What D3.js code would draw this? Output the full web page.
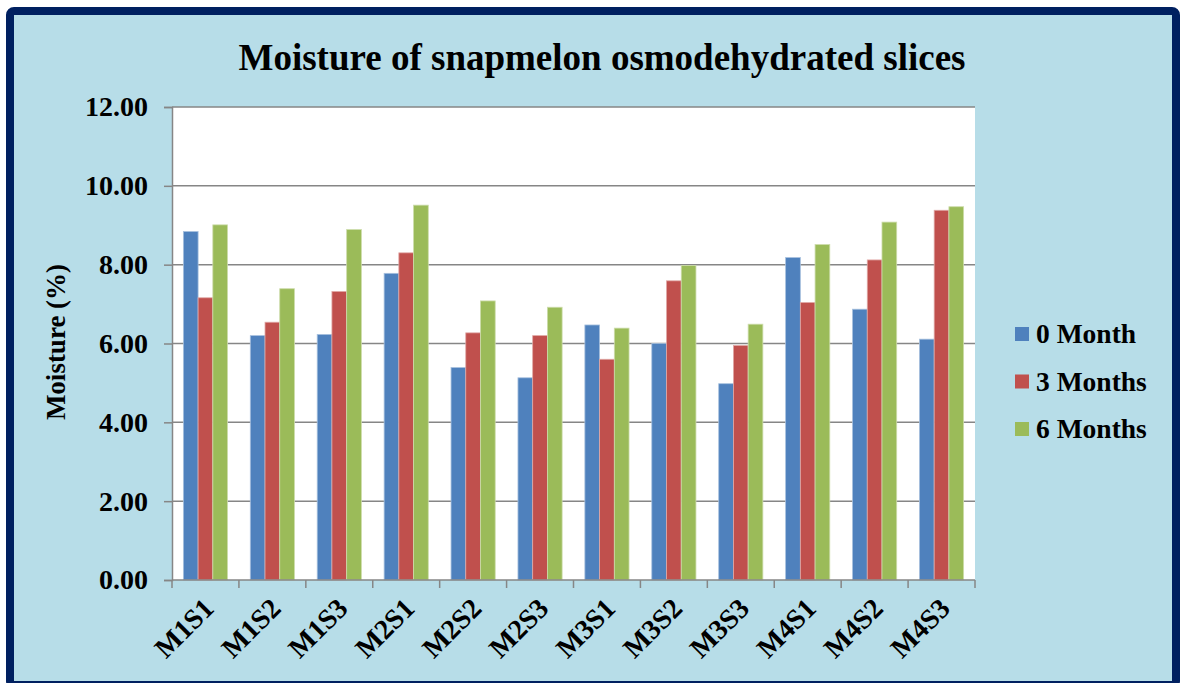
<!DOCTYPE html>
<html><head><meta charset="utf-8">
<script src="https://cdn.jsdelivr.net/npm/d3@7"></script>
<style>body{margin:0;background:#fff}svg{display:block}</style>
</head><body>
<script>
const categories = ["M1S1","M1S2","M1S3","M2S1","M2S2","M2S3","M3S1","M3S2","M3S3","M4S1","M4S2","M4S3"];
const seriesNames = ["0 Month","3 Months","6 Months"];
const month0 = [8.84,6.20,6.23,7.78,5.39,5.13,6.47,6.00,4.98,8.18,6.87,6.11];
const month3 = [7.16,6.54,7.32,8.30,6.27,6.20,5.60,7.59,5.95,7.04,8.12,9.38];
const month6 = [9.01,7.39,8.89,9.51,7.08,6.92,6.39,7.98,6.49,8.51,9.08,9.47];
const yTicks = [0,2,4,6,8,10,12];

(function(){
const colors = ["#4f81bd","#c0504d","#9bbb59"];
const strokes = ["#a7c0de","#e0a8a6","#cddcab"];
const series = [month0, month3, month6];

const W = 1180, H = 683;
const svg = d3.select("body").append("svg").attr("width", W).attr("height", H);
const font = "'Liberation Serif','Times New Roman',serif";

svg.append("rect").attr("x",10).attr("y",11).attr("width",1166).attr("height",674)
  .attr("rx",4).attr("fill","#b7dde8").attr("stroke","#002060").attr("stroke-width",8);

const pL = 172, pR = 975, pT = 107, pB = 580;
const x = d3.scaleBand().domain(categories).range([pL, pR]).paddingInner(0.34).paddingOuter(0.17);
const xOuter = d3.scaleBand().domain(categories).range([pL, pR]);
const xs = d3.scaleBand().domain(seriesNames).range([0, x.bandwidth()]);
const y = d3.scaleLinear().domain([0,12]).range([pB, pT]);

svg.append("rect").attr("x",pL).attr("y",pT).attr("width",pR-pL).attr("height",pB-pT).attr("fill","#fff");

svg.append("g").selectAll("line").data(yTicks.slice(1)).join("line")
  .attr("x1",pL).attr("x2",pR).attr("y1",d=>y(d)).attr("y2",d=>y(d))
  .attr("stroke","#868686").attr("stroke-width",1.5);

seriesNames.forEach((s,i)=>{
  svg.append("g").selectAll("rect").data(series[i]).join("rect")
    .attr("x",(d,j)=>x(categories[j])+xs(s))
    .attr("y",d=>y(d))
    .attr("width",xs.bandwidth())
    .attr("height",d=>pB-y(d))
    .attr("fill",colors[i])
    .attr("stroke",strokes[i]).attr("stroke-width",0.8);
});

const yAxis = svg.append("g").attr("transform",`translate(${pL},0)`)
  .call(d3.axisLeft(y).tickValues(yTicks).tickFormat(d3.format(".2f")).tickSizeOuter(0).tickSize(8).tickPadding(16));
yAxis.select(".domain").attr("stroke","#868686").attr("stroke-width",1.5);
yAxis.selectAll(".tick line").attr("stroke","#868686").attr("stroke-width",1.5);
yAxis.selectAll("text").attr("font-family",font).attr("font-weight","bold").attr("font-size",28).attr("fill","#000");

const xAxisG = svg.append("g").attr("transform",`translate(0,${pB})`);
xAxisG.append("line").attr("x1",pL).attr("x2",pR).attr("stroke","#868686").attr("stroke-width",1.5);
xAxisG.selectAll("line.t").data(categories.concat(["end"])).join("line").attr("class","t")
  .attr("x1",(d,i)=>pL+i*xOuter.step()).attr("x2",(d,i)=>pL+i*xOuter.step())
  .attr("y1",0).attr("y2",8).attr("stroke","#868686").attr("stroke-width",1.5);
xAxisG.selectAll("text").data(categories).join("text")
  .attr("transform",d=>`translate(${xOuter(d)+xOuter.bandwidth()/2+10},${30}) rotate(-45)`)
  .attr("text-anchor","end").attr("font-family",font).attr("font-weight","bold").attr("font-size",28)
  .attr("fill","#000").text(d=>d);

svg.append("text").attr("x",602).attr("y",70).attr("text-anchor","middle")
  .attr("font-family",font).attr("font-weight","bold").attr("font-size",37).text("Moisture of snapmelon osmodehydrated slices");

svg.append("text").attr("transform","translate(65,342) rotate(-90)").attr("text-anchor","middle")
  .attr("font-family",font).attr("font-weight","bold").attr("font-size",27).text("Moisture (%)");

const lg = svg.append("g");
seriesNames.forEach((s,i)=>{
  const yy = 334 + i*47.5;
  lg.append("rect").attr("x",1015).attr("y",yy-7).attr("width",14).attr("height",14).attr("fill",colors[i]);
  lg.append("text").attr("x",1036).attr("y",yy+9).attr("font-family",font).attr("font-weight","bold")
    .attr("font-size",27.5).text(s);
});
})();
</script>
</body></html>
